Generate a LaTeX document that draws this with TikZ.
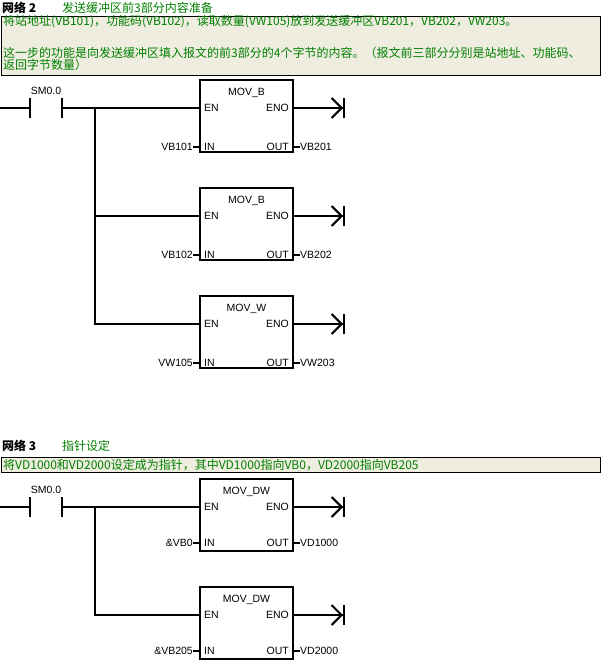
\documentclass[tikz,border=0pt]{standalone}
\usepackage{fontspec}
\setmainfont{Liberation Sans}
\newfontfamily\cjk{Noto Sans CJK SC}
\usepackage{tikz}
\usetikzlibrary{positioning,arrows.meta}
\definecolor{cmtfill}{RGB}{239,237,224}
\definecolor{cmtgreen}{RGB}{0,128,0}

\begin{document}
\begin{tikzpicture}[x=1pt,y=-1pt,
		wire/.style={line width=2pt},
		fb/.style={draw,line width=2pt,minimum width=93pt,minimum height=72pt,inner sep=0pt,outer sep=0pt,anchor=north west},
		lab/.style={font=\fontsize{10.5}{12}\selectfont,inner sep=0pt},
		pinl/.style={lab,inner xsep=4pt,anchor=west},
		pinr/.style={lab,inner xsep=4pt,anchor=east},
		contact/.style={minimum width=32pt,minimum height=20pt,inner sep=0pt,outer sep=0pt},
		coil/.style={wire,-{Straight Barb[length=10pt,width=20pt,sep=0pt]Bar[width=20pt]}},
		cmt/.style={draw,fill=cmtfill,line width=1pt,minimum width=599pt,inner sep=0pt,anchor=north west},
		ctext/.style={font=\cjk\fontsize{12}{12}\selectfont,text=cmtgreen,inner sep=0pt,anchor=base west},
		head/.style={font=\cjk\bfseries\fontsize{12}{12}\selectfont,inner sep=0pt,anchor=base west}]
		\useasboundingbox (0,0) rectangle (604,663);
		% network 2
		\node[head] (h2) at (2,13) {网络 2};
		\node[ctext] (t2) at (62,13) {发送缓冲区前3部分内容准备};
		\node[cmt,minimum height=59pt] (c2) at (1,16) {};
		\node[ctext] (c2a) at (3,26) {将站地址(VB101)，功能码(VB102)，读取数量(VW105)放到发送缓冲区VB201，VB202，VW203。};
		\node[ctext] (c2b) at (3,58) {这一步的功能是向发送缓冲区填入报文的前3部分的4个字节的内容。（报文前三部分分别是站地址、功能码、};
		\node[ctext] (c2c) at (3,70) {返回字节数量）};
		\coordinate (r2) at (0,108);
		\coordinate (j2) at (95,108);
		\node[contact] (k2) at (46,108) {};
		\node[lab,above=3pt of k2] (k2l) {SM0.0};
		\draw[wire] (k2.north west) -- (k2.south west) (k2.north east) -- (k2.south east);
		\draw[wire] (r2) -- (k2.west);
		% MOV_B 1
		\node[fb] (b1) at (200,80) {};
		\node[lab,below=8pt of b1.north] (b1n) {MOV\_B};
		\node[pinl] (b1en) at ([yshift=-28pt]b1.north west) {EN};
		\node[pinr] (b1eno) at ([yshift=-28pt]b1.north east) {ENO};
		\node[pinl] (b1in) at ([yshift=-67pt]b1.north west) {IN};
		\node[pinr] (b1out) at ([yshift=-67pt]b1.north east) {OUT};
		\node[lab,anchor=east] (b1i) at ([xshift=-7pt]b1in.west) {VB101};
		\node[lab,anchor=west] (b1o) at ([xshift=7pt]b1out.east) {VB201};
		\coordinate (b1e) at ([xshift=52pt]b1eno.east);
		% MOV_B 2
		\node[fb] (b2) at (200,188) {};
		\node[lab,below=8pt of b2.north] (b2n) {MOV\_B};
		\node[pinl] (b2en) at ([yshift=-28pt]b2.north west) {EN};
		\node[pinr] (b2eno) at ([yshift=-28pt]b2.north east) {ENO};
		\node[pinl] (b2in) at ([yshift=-67pt]b2.north west) {IN};
		\node[pinr] (b2out) at ([yshift=-67pt]b2.north east) {OUT};
		\node[lab,anchor=east] (b2i) at ([xshift=-7pt]b2in.west) {VB102};
		\node[lab,anchor=west] (b2o) at ([xshift=7pt]b2out.east) {VB202};
		\coordinate (b2e) at ([xshift=52pt]b2eno.east);
		% MOV_W
		\node[fb] (b3) at (200,296) {};
		\node[lab,below=8pt of b3.north] (b3n) {MOV\_W};
		\node[pinl] (b3en) at ([yshift=-28pt]b3.north west) {EN};
		\node[pinr] (b3eno) at ([yshift=-28pt]b3.north east) {ENO};
		\node[pinl] (b3in) at ([yshift=-67pt]b3.north west) {IN};
		\node[pinr] (b3out) at ([yshift=-67pt]b3.north east) {OUT};
		\node[lab,anchor=east] (b3i) at ([xshift=-7pt]b3in.west) {VW105};
		\node[lab,anchor=west] (b3o) at ([xshift=7pt]b3out.east) {VW203};
		\coordinate (b3e) at ([xshift=52pt]b3eno.east);
		\draw[wire] (k2.east) -- (b1en.west);
		\draw[wire] (j2) |- (b2en.west);
		\draw[wire] (j2) |- (b3en.west);
		\draw[wire] (b1i.east) -- (b1in.west) (b1out.east) -- (b1o.west);
		\draw[wire] (b2i.east) -- (b2in.west) (b2out.east) -- (b2o.west);
		\draw[wire] (b3i.east) -- (b3in.west) (b3out.east) -- (b3o.west);
		\draw[coil] (b1eno.east) -- (b1e);
		\draw[coil] (b2eno.east) -- (b2e);
		\draw[coil] (b3eno.east) -- (b3e);
		% network 3
		\node[head] (h3) at (2,450) {网络 3};
		\node[ctext] (t3) at (62,450) {指针设定};
		\node[cmt,minimum height=15pt] (c3) at (1,457) {};
		\node[ctext] (c3a) at (3,469) {将VD1000和VD2000设定成为指针，其中VD1000指向VB0，VD2000指向VB205};
		\coordinate (r3) at (0,507);
		\coordinate (j3) at (95,507);
		\node[contact] (k3) at (46,507) {};
		\node[lab,above=3pt of k3] (k3l) {SM0.0};
		\draw[wire] (k3.north west) -- (k3.south west) (k3.north east) -- (k3.south east);
		\draw[wire] (r3) -- (k3.west);
		% MOV_DW 1
		\node[fb] (b4) at (200,479) {};
		\node[lab,below=8pt of b4.north] (b4n) {MOV\_DW};
		\node[pinl] (b4en) at ([yshift=-28pt]b4.north west) {EN};
		\node[pinr] (b4eno) at ([yshift=-28pt]b4.north east) {ENO};
		\node[pinl] (b4in) at ([yshift=-64pt]b4.north west) {IN};
		\node[pinr] (b4out) at ([yshift=-64pt]b4.north east) {OUT};
		\node[lab,anchor=east] (b4i) at ([xshift=-7pt]b4in.west) {\&VB0};
		\node[lab,anchor=west] (b4o) at ([xshift=7pt]b4out.east) {VD1000};
		\coordinate (b4e) at ([xshift=52pt]b4eno.east);
		% MOV_DW 2
		\node[fb] (b5) at (200,587) {};
		\node[lab,below=8pt of b5.north] (b5n) {MOV\_DW};
		\node[pinl] (b5en) at ([yshift=-28pt]b5.north west) {EN};
		\node[pinr] (b5eno) at ([yshift=-28pt]b5.north east) {ENO};
		\node[pinl] (b5in) at ([yshift=-64pt]b5.north west) {IN};
		\node[pinr] (b5out) at ([yshift=-64pt]b5.north east) {OUT};
		\node[lab,anchor=east] (b5i) at ([xshift=-7pt]b5in.west) {\&VB205};
		\node[lab,anchor=west] (b5o) at ([xshift=7pt]b5out.east) {VD2000};
		\coordinate (b5e) at ([xshift=52pt]b5eno.east);
		\draw[wire] (k3.east) -- (b4en.west);
		\draw[wire] (j3) |- (b5en.west);
		\draw[wire] (b4i.east) -- (b4in.west) (b4out.east) -- (b4o.west);
		\draw[wire] (b5i.east) -- (b5in.west) (b5out.east) -- (b5o.west);
		\draw[coil] (b4eno.east) -- (b4e);
		\draw[coil] (b5eno.east) -- (b5e);
	\end{tikzpicture}
\end{document}
